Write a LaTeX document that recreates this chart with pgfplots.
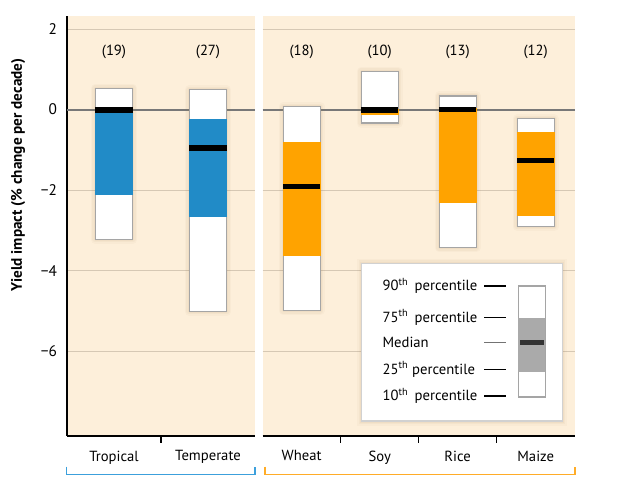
\documentclass[border=0pt]{standalone}
\usepackage{pgfplots}
\pgfplotsset{compat=1.18}
\usepackage{fontspec}
\setmainfont{PT Sans}
\definecolor{bg}{RGB}{253,239,218}
\definecolor{gridc}{RGB}{214,200,180}
\definecolor{zeroc}{RGB}{120,120,120}
\definecolor{bluec}{RGB}{33,139,199}
\definecolor{orangec}{RGB}{255,163,0}
\definecolor{boxc}{RGB}{165,165,165}
\definecolor{glowc}{RGB}{160,120,70}
\definecolor{brblue}{RGB}{60,160,220}
\definecolor{brorange}{RGB}{255,172,40}
\definecolor{legc}{RGB}{170,170,170}

% xl xr p10 p25 med p75 p90 colour
\newcommand{\qbox}[8]{%
  \addplot[draw=glowc, draw opacity=0.04, line width=7pt, line join=round] coordinates {(#1,#3)(#2,#3)(#2,#7)(#1,#7)} -- cycle;
  \addplot[draw=glowc, draw opacity=0.05, line width=4.5pt, line join=round] coordinates {(#1,#3)(#2,#3)(#2,#7)(#1,#7)} -- cycle;
  \addplot[draw=glowc, draw opacity=0.06, line width=2.5pt, line join=round] coordinates {(#1,#3)(#2,#3)(#2,#7)(#1,#7)} -- cycle;
  \addplot[fill=white, draw=boxc, line width=0.9pt] coordinates {(#1,#3)(#2,#3)(#2,#7)(#1,#7)} -- cycle;
  \addplot[fill=#8, draw=#8, line width=0.9pt] coordinates {(#1,#4)(#2,#4)(#2,#6)(#1,#6)} -- cycle;
  \addplot[black, line width=4.2pt] coordinates {(#1,#5)(#2,#5)};
}

\newcommand{\lfont}{\fontsize{11}{12}\selectfont}

\pgfplotsset{
  panel/.style={
    anchor=south west, scale only axis, height=315.2pt,
    ymin=-8.1, ymax=2.33,
    axis background/.style={fill=bg},
    axis x line*=bottom, axis y line*=left,
    axis line style={line width=1.8pt,-},
    ytick={-6,-4,-2,0,2},
    ymajorgrids, grid style={gridc, line width=0.8pt},
    major tick length=0pt,
    tick label style={font=\lfont},
    xticklabel style={yshift=-7.5pt},
    clip=false,
  },
}

\begin{document}
\begin{tikzpicture}
\begin{scope}[x=0.75pt,y=0.75pt]
\path[use as bounding box] (0,0) rectangle (640,479);
\end{scope}

% ---------------- left panel ----------------
\begin{axis}[panel, at={(50.25pt,32.25pt)}, width=141pt,
  xmin=-0.5, xmax=1.5,
  yticklabels={−6,−4,−2,0,2},
  yticklabel style={xshift=-4pt, font=\fontsize{11.5}{12}\selectfont},
  xtick={0,1}, xticklabels={Tropical,Temperate},
]
\addplot[zeroc, line width=1.5pt] coordinates {(-0.5,0)(1.5,0)};
\qbox{-0.197}{0.197}{-3.22}{-2.11}{-0.01}{0.02}{0.53}{bluec}
\qbox{0.803}{1.197}{-5.01}{-2.66}{-0.95}{-0.25}{0.49}{bluec}
\node[font=\lfont] at (axis cs:0,1.44) {(19)};
\node[font=\lfont] at (axis cs:1,1.44) {(27)};
\draw[line width=1pt] (axis cs:0.5,-8.1) -- ++(0pt,-5.5pt);
\end{axis}

% ---------------- right panel ----------------
\begin{axis}[panel, at={(197pt,32.25pt)}, width=234pt,
  xmin=-0.5, xmax=3.5,
  y axis line style={draw=none},
  yticklabels={},
  xtick={0,1,2,3}, xticklabels={Wheat,Soy,Rice,Maize},
]
\addplot[zeroc, line width=1.5pt] coordinates {(-0.5,0)(3.5,0)};
\qbox{-0.237}{0.237}{-4.99}{-3.61}{-1.91}{-0.81}{0.07}{orangec}
\qbox{0.763}{1.237}{-0.33}{-0.12}{-0.01}{0.01}{0.95}{orangec}
\qbox{1.763}{2.237}{-3.43}{-2.31}{0.0}{0.02}{0.34}{orangec}
\qbox{2.763}{3.237}{-2.90}{-2.62}{-1.26}{-0.57}{-0.23}{orangec}
\node[font=\lfont] at (axis cs:0,1.44) {(18)};
\node[font=\lfont] at (axis cs:1,1.44) {(10)};
\node[font=\lfont] at (axis cs:2,1.44) {(13)};
\node[font=\lfont] at (axis cs:3,1.44) {(12)};
\draw[line width=1pt] (axis cs:0.5,-8.1) -- ++(0pt,-5.5pt);
\draw[line width=1pt] (axis cs:1.5,-8.1) -- ++(0pt,-5.5pt);
\draw[line width=1pt] (axis cs:2.5,-8.1) -- ++(0pt,-5.5pt);
\end{axis}

% ---------------- decorations ----------------
\begin{scope}[x=0.75pt,y=0.75pt]
% y label
\node[rotate=90, font=\bfseries\fontsize{11.4}{12}\selectfont] at (18,304) {Yield impact (\% change per decade)};
% brackets
\draw[brblue, line width=1pt] (66.7,12.3) -- (66.7,4.7) -- (255,4.7) -- (255,12.3);
\draw[brorange, line width=1pt] (265,12.3) -- (265,4.7) -- (575,4.7) -- (575,12.3);
% legend box
\draw[glowc, opacity=0.04, line width=7pt] (361.7,58) rectangle (562.3,215.7);
\draw[glowc, opacity=0.05, line width=4.5pt] (361.7,58) rectangle (562.3,215.7);
\draw[glowc, opacity=0.06, line width=2.5pt] (361.7,58) rectangle (562.3,215.7);
\draw[fill=white, draw=black!18, line width=0.9pt] (361.7,58) rectangle (562.3,215.7);
\begin{scope}[every node/.style={anchor=west, inner sep=0pt, font=\lfont}]
\node at (382.3,193) {90\textsuperscript{th}\, percentile};
\node at (382.3,161.7) {75\textsuperscript{th}\, percentile};
\node at (382.3,136.3) {Median};
\node at (382.3,109.7) {25\textsuperscript{th} percentile};
\node at (382.3,83) {10\textsuperscript{th}\, percentile};
\end{scope}
\draw[line width=1.1pt] (484.3,193) -- (506,193);
\draw[line width=1.1pt] (484.3,161.7) -- (506,161.7);
\draw[black!55, line width=1.1pt] (484.3,136.3) -- (506,136.3);
\draw[line width=1.1pt] (484.3,109.7) -- (506,109.7);
\draw[line width=1.1pt] (484.3,83) -- (506,83);
\draw[fill=white, draw=boxc, line width=0.9pt] (518.3,82) rectangle (545.3,193);
\fill[legc] (518.3,106.7) rectangle (545.3,161.3);
\fill[black!80] (519.5,134) rectangle (544.1,138.6);
\end{scope}
\end{tikzpicture}
\end{document}
